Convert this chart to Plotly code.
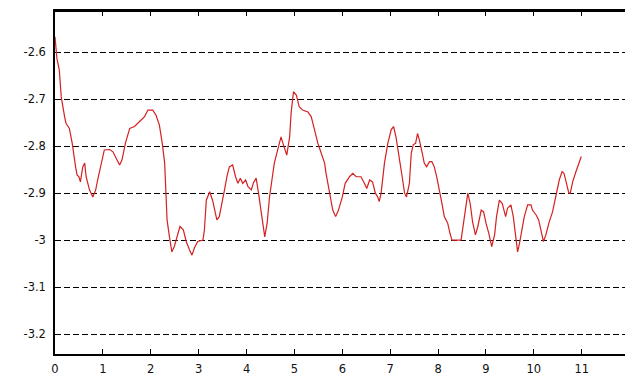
import plotly.graph_objects as go

x_vals = [0.00, 0.04, 0.09, 0.13, 0.20, 0.23, 0.30, 0.36, 0.43, 0.46, 0.50, 0.53, 0.58, 0.62, 0.65,
          0.72, 0.79, 0.85, 0.89, 0.96, 1.03, 1.14, 1.21, 1.28, 1.35, 1.40, 1.47, 1.56, 1.66, 1.76,
          1.87, 1.94, 2.04, 2.11, 2.18, 2.24, 2.29, 2.32, 2.34, 2.39, 2.44, 2.49, 2.56, 2.61, 2.68,
          2.74, 2.81, 2.86, 2.91, 2.98, 3.09, 3.12, 3.16, 3.23, 3.29, 3.38, 3.43, 3.49, 3.54, 3.59,
          3.64, 3.71, 3.77, 3.82, 3.87, 3.92, 3.98, 4.03, 4.10, 4.14, 4.20, 4.25, 4.30, 4.34, 4.38,
          4.43, 4.48, 4.53, 4.58, 4.65, 4.72, 4.77, 4.84, 4.90, 4.93, 4.98, 5.04, 5.10, 5.17, 5.28,
          5.35, 5.42, 5.49, 5.56, 5.63, 5.66, 5.73, 5.80, 5.86, 5.92, 6.00, 6.06, 6.15, 6.22, 6.29,
          6.39, 6.46, 6.51, 6.57, 6.63, 6.69, 6.74, 6.77, 6.81, 6.88, 6.95, 7.02, 7.07, 7.12, 7.19,
          7.25, 7.30, 7.34, 7.40, 7.44, 7.48, 7.53, 7.57, 7.61, 7.67, 7.71, 7.76, 7.82, 7.87, 7.92,
          7.97, 8.03, 8.08, 8.13, 8.20, 8.25, 8.29, 8.38, 8.48, 8.55, 8.62, 8.67, 8.72, 8.78, 8.83,
          8.90, 8.95, 9.00, 9.06, 9.12, 9.18, 9.22, 9.28, 9.34, 9.38, 9.41, 9.45, 9.52, 9.57, 9.63,
          9.66, 9.70, 9.75, 9.80, 9.87, 9.94, 9.97, 10.05, 10.10, 10.15, 10.20, 10.25, 10.32, 10.39, 10.46,
          10.53, 10.59, 10.63, 10.69, 10.73, 10.76, 10.81, 10.88, 10.95, 10.99]

y_vals = [-2.567, -2.613, -2.638, -2.695, -2.737, -2.751, -2.762, -2.794, -2.844, -2.861, -2.865, -2.876, -2.844, -2.836, -2.865,
          -2.893, -2.908, -2.893, -2.872, -2.836, -2.808, -2.807, -2.812, -2.826, -2.840, -2.829, -2.794, -2.762, -2.758, -2.748,
          -2.737, -2.723, -2.723, -2.734, -2.755, -2.794, -2.836, -2.908, -2.957, -2.993, -3.025, -3.014, -2.989, -2.971, -2.978,
          -3.003, -3.021, -3.032, -3.017, -3.003, -3.000, -2.978, -2.915, -2.897, -2.915, -2.957, -2.950, -2.922, -2.893, -2.865,
          -2.844, -2.840, -2.865, -2.879, -2.868, -2.879, -2.872, -2.886, -2.893, -2.879, -2.868, -2.900, -2.936, -2.968, -2.993,
          -2.964, -2.908, -2.872, -2.836, -2.808, -2.780, -2.797, -2.819, -2.780, -2.730, -2.684, -2.691, -2.716, -2.723, -2.727,
          -2.737, -2.765, -2.794, -2.815, -2.836, -2.858, -2.893, -2.936, -2.950, -2.936, -2.908, -2.879, -2.865, -2.858, -2.865,
          -2.865, -2.879, -2.890, -2.872, -2.876, -2.900, -2.908, -2.918, -2.900, -2.836, -2.794, -2.765, -2.758, -2.780, -2.822,
          -2.865, -2.900, -2.908, -2.879, -2.815, -2.797, -2.794, -2.773, -2.787, -2.815, -2.836, -2.844, -2.833, -2.833, -2.844,
          -2.865, -2.893, -2.922, -2.950, -2.964, -2.986, -3.000, -3.000, -3.000, -2.950, -2.900, -2.922, -2.961, -2.989, -2.971,
          -2.936, -2.940, -2.964, -2.986, -3.014, -2.989, -2.950, -2.915, -2.922, -2.936, -2.950, -2.932, -2.925, -2.950, -2.993,
          -3.025, -3.007, -2.978, -2.950, -2.925, -2.925, -2.936, -2.947, -2.957, -2.978, -3.003, -2.989, -2.961, -2.940, -2.908,
          -2.872, -2.854, -2.858, -2.883, -2.900, -2.900, -2.876, -2.854, -2.833, -2.822]

x_ticks = [0, 1, 2, 3, 4, 5, 6, 7, 8, 9, 10, 11]
x_tick_labels = ["0", "1", "2", "3", "4", "5", "6", "7", "8", "9", "10", "11"]
y_ticks = [-3.2, -3.1, -3.0, -2.9, -2.8, -2.7, -2.6]
y_tick_labels = ["-3.2", "-3.1", "-3", "-2.9", "-2.8", "-2.7", "-2.6"]

fig = go.Figure()
fig.add_trace(go.Scatter(x=x_vals, y=y_vals, mode="lines",
                         line=dict(color="#d42020", width=1.2), hoverinfo="skip"))

# page body has an 8px default margin, so the figure is sized to fit after that offset
fig.update_layout(
    width=625, height=370,
    margin=dict(l=47, r=0, t=3, b=24),
    paper_bgcolor="white", plot_bgcolor="white",
    showlegend=False,
    font=dict(family="DejaVu Sans, Liberation Sans, sans-serif", size=11.5, color="#111"),
)
# top frame line of the axes box
fig.add_shape(type="line", xref="paper", yref="paper", x0=0, x1=1, y0=1, y1=1,
              line=dict(color="black", width=2), layer="above")
fig.update_xaxes(
    range=[0, 12.07], tickvals=x_ticks, ticktext=x_tick_labels,
    showline=True, linecolor="black", linewidth=1.5, mirror="allticks",
    ticks="inside", ticklen=5, tickwidth=1.2, tickcolor="black",
    showgrid=False, zeroline=False, ticklabelstandoff=3,
)
fig.update_yaxes(
    range=[-3.2426, -2.512], tickvals=y_ticks, ticktext=y_tick_labels,
    showline=True, linecolor="black", linewidth=1.5,
    ticks="", showgrid=True, gridcolor="black", gridwidth=1.3,
    griddash="6px,3px", zeroline=False, ticklabelstandoff=5,
)

fig.write_html("out.html")
